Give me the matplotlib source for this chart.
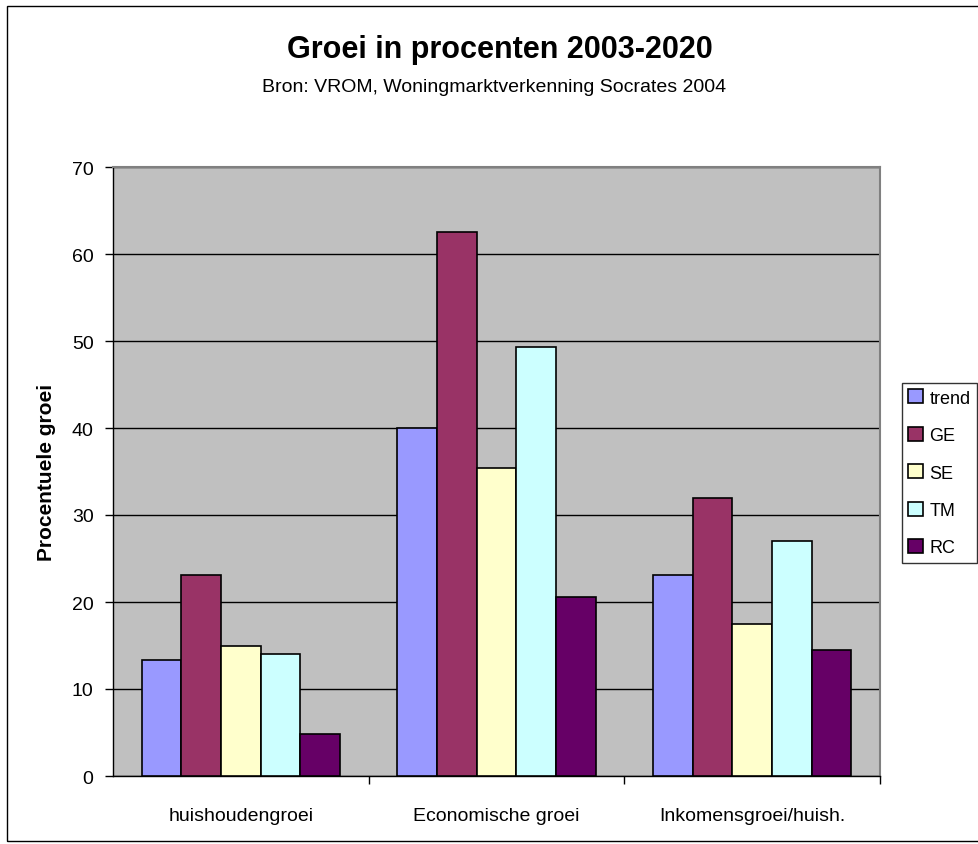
import matplotlib
matplotlib.use("Agg")
import matplotlib.pyplot as plt
from matplotlib.patches import Rectangle
import numpy as np

plt.rcParams['font.family'] = ['Liberation Sans', 'DejaVu Sans']

categories = ["huishoudengroei", "Economische groei", "Inkomensgroei/huish."]
series_names = ["trend", "GE", "SE", "TM", "RC"]
trend = [13.3, 40.0, 23.1]
GE = [23.1, 62.5, 32.0]
SE = [15.0, 35.4, 17.5]
TM = [14.0, 49.3, 27.0]
RC = [4.8, 20.6, 14.5]
colors = ["#9999FF", "#993366", "#FFFFCC", "#CCFFFF", "#660066"]
yticks = [0, 10, 20, 30, 40, 50, 60, 70]

W, H = 979, 845
fig = plt.figure(figsize=(W / 100, H / 100), dpi=100)
fig.patch.set_facecolor("white")

# figure border
fig.add_artist(Rectangle((7 / W, 1 - 842 / H), (W + 20) / W, (842 - 7) / H,
                         transform=fig.transFigure, fill=False,
                         edgecolor="black", linewidth=1))

left, right, top, bottom = 113, 880, 168, 777
ax = fig.add_axes([left / W, 1 - bottom / H, (right - left) / W, (bottom - top) / H])
ax.set_facecolor("#C0C0C0")
for s in ["top", "right"]:
    ax.spines[s].set_color("#808080")
    ax.spines[s].set_linewidth(1.5)
for s in ["left", "bottom"]:
    ax.spines[s].set_color("black")
    ax.spines[s].set_linewidth(1)

data = [trend, GE, SE, TM, RC]
n = len(data)
x = np.arange(len(categories))
group_w = 0.775
bw = group_w / n
for i, (vals, c, name) in enumerate(zip(data, colors, series_names)):
    ax.bar(x - group_w / 2 + bw * (i + 0.5), vals, width=bw, color=c,
           edgecolor="black", linewidth=1.2, label=name, zorder=3)

ax.set_xlim(-0.5, len(categories) - 0.5)
ax.set_ylim(0, 70)
ax.set_yticks(yticks)
ax.set_yticklabels([str(t) for t in yticks], fontsize=14)
ax.yaxis.grid(True, color="black", linewidth=1, zorder=0)
ax.set_axisbelow(True)
ax.tick_params(axis="y", direction="out", length=6, width=1, pad=8)

ax.set_xticks(x)
ax.set_xticklabels(categories, fontsize=14)
ax.tick_params(axis="x", length=0, pad=22)
ax.set_xticks(np.arange(0.5, len(categories) - 0.5 + 1e-9, 1.0), minor=True)
ax.tick_params(axis="x", which="minor", direction="out", length=6, width=1)

ax.set_ylabel("Procentuele groei", fontsize=15, fontweight="bold", labelpad=11)

fig.text(500 / W, 1 - 50 / H, "Groei in procenten 2003-2020",
         ha="center", va="center", fontsize=22, fontweight="bold")
fig.text(494 / W, 1 - 87 / H, "Bron: VROM, Woningmarktverkenning Socrates 2004",
         ha="center", va="center", fontsize=14)

leg = fig.legend(loc="upper left", bbox_to_anchor=(902 / W, 1 - 384 / H),
                 fontsize=13, frameon=True, fancybox=False, edgecolor="black",
                 handlelength=0.78, handleheight=0.78, handletextpad=0.38,
                 labelspacing=1.13, borderpad=0.36, borderaxespad=0)
leg.get_frame().set_linewidth(1)

fig.savefig("out.png", dpi=100)
